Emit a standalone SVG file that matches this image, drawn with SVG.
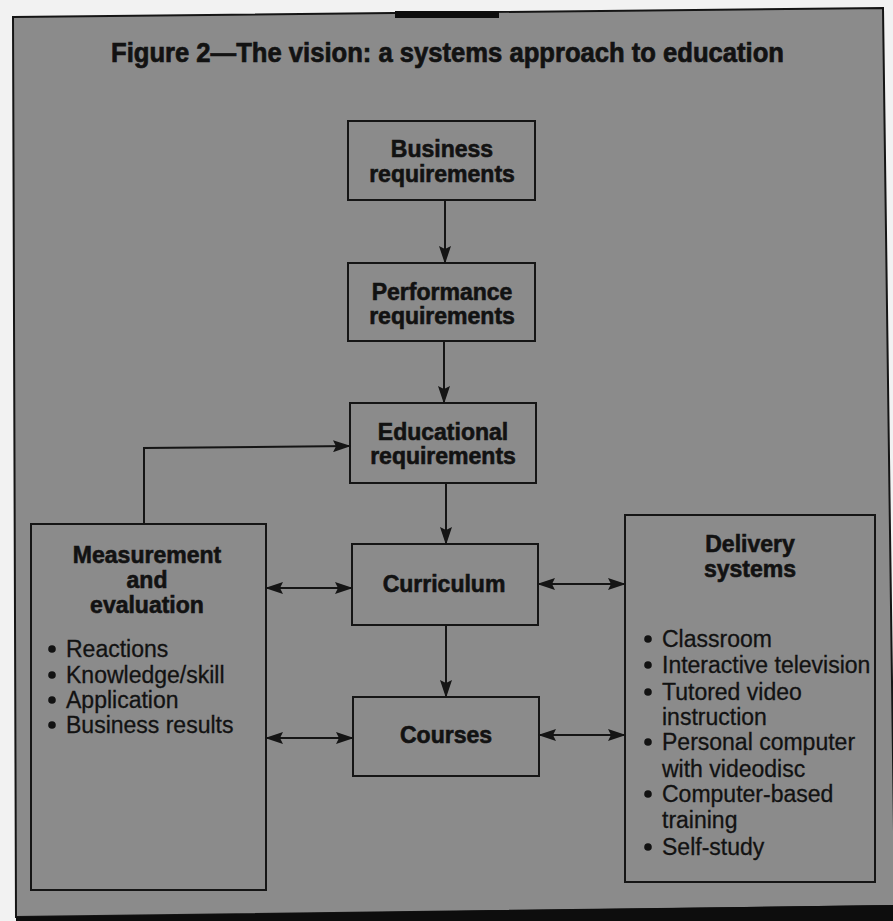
<svg xmlns="http://www.w3.org/2000/svg" width="893" height="921" viewBox="0 0 893 921">
<defs>
<style>
.box{fill:none;stroke:#151515;stroke-width:2}
.con{fill:none;stroke:#151515;stroke-width:2}
.dot{fill:#121212}
.b{font-family:"Liberation Sans",Arial,sans-serif;font-weight:bold;font-size:23px;fill:#121212;stroke:#121212;stroke-width:0.6;text-anchor:middle}
.r{font-family:"Liberation Sans",Arial,sans-serif;font-size:23px;fill:#121212;stroke:#121212;stroke-width:0.3}
.t{font-family:"Liberation Sans",Arial,sans-serif;font-weight:bold;font-size:27px;fill:#121212;stroke:#121212;stroke-width:0.7}
</style>
<marker id="ah" markerUnits="userSpaceOnUse" markerWidth="18" markerHeight="12" refX="17" refY="6" orient="auto-start-reverse">
<path d="M0,0 L18,6 L0,12 L3,6 Z" fill="#151515"/>
</marker>
</defs>
<rect x="0" y="0" width="893" height="921" fill="#f2f2f2"/>
<polygon points="13,17 883,8 895,906 16,917" fill="#8b8b8b" stroke="#151515" stroke-width="2"/>
<polygon points="16,917 895,905 895,921 16,921" fill="#0d0d0d"/>
<rect x="395" y="11" width="104" height="7" fill="#0d0d0d"/>
<text class="t" x="111" y="62" textLength="673" lengthAdjust="spacingAndGlyphs">Figure 2—The vision: a systems approach to education</text>

<g id="business">
<rect class="box" x="348" y="121" width="187" height="79"/>
<text class="b" x="442" y="157">Business</text>
<text class="b" x="442" y="182">requirements</text>
</g>
<g id="performance">
<rect class="box" x="348" y="263" width="187" height="78"/>
<text class="b" x="442" y="300">Performance</text>
<text class="b" x="442" y="324">requirements</text>
</g>
<g id="educational">
<rect class="box" x="350" y="403" width="186" height="80"/>
<text class="b" x="443" y="440">Educational</text>
<text class="b" x="443" y="464">requirements</text>
</g>
<g id="curriculum">
<rect class="box" x="352" y="544" width="186" height="81"/>
<text class="b" x="444" y="592">Curriculum</text>
</g>
<g id="courses">
<rect class="box" x="353" y="697" width="186" height="79"/>
<text class="b" x="446" y="743">Courses</text>
</g>
<g id="measurement">
<rect class="box" x="31" y="524" width="235" height="366"/>
<text class="b" x="147" y="563">Measurement</text>
<text class="b" x="147" y="588">and</text>
<text class="b" x="147" y="613">evaluation</text>
<circle class="dot" cx="52" cy="649" r="3.8"/><text class="r" x="66" y="657">Reactions</text>
<circle class="dot" cx="52" cy="675" r="3.8"/><text class="r" x="66" y="683">Knowledge/skill</text>
<circle class="dot" cx="52" cy="700" r="3.8"/><text class="r" x="66" y="708">Application</text>
<circle class="dot" cx="52" cy="725" r="3.8"/><text class="r" x="66" y="733">Business results</text>
</g>
<g id="delivery">
<rect class="box" x="625" y="515" width="250" height="367"/>
<text class="b" x="750" y="552">Delivery</text>
<text class="b" x="750" y="577">systems</text>
<circle class="dot" cx="648" cy="639" r="3.8"/><text class="r" x="662" y="647">Classroom</text>
<circle class="dot" cx="648" cy="665" r="3.8"/><text class="r" x="662" y="673">Interactive television</text>
<circle class="dot" cx="648" cy="692" r="3.8"/><text class="r" x="662" y="700">Tutored video</text>
<text class="r" x="662" y="725">instruction</text>
<circle class="dot" cx="648" cy="742" r="3.8"/><text class="r" x="662" y="750">Personal computer</text>
<text class="r" x="662" y="777">with videodisc</text>
<circle class="dot" cx="648" cy="794" r="3.8"/><text class="r" x="662" y="802">Computer-based</text>
<text class="r" x="662" y="828">training</text>
<circle class="dot" cx="648" cy="847" r="3.8"/><text class="r" x="662" y="855">Self-study</text>
</g>
<g id="connectors">
<path class="con" d="M445,200 V263" marker-end="url(#ah)"/>
<path class="con" d="M444,341 V403" marker-end="url(#ah)"/>
<path class="con" d="M446,483 V544" marker-end="url(#ah)"/>
<path class="con" d="M446,625 V697" marker-end="url(#ah)"/>
<path class="con" d="M144,524 V448 L350,446" marker-end="url(#ah)"/>
<path class="con" d="M266,588 H352" marker-start="url(#ah)" marker-end="url(#ah)"/>
<path class="con" d="M266,738 H353" marker-start="url(#ah)" marker-end="url(#ah)"/>
<path class="con" d="M538,584 H625" marker-start="url(#ah)" marker-end="url(#ah)"/>
<path class="con" d="M539,735 H625" marker-start="url(#ah)" marker-end="url(#ah)"/>
</g>
</svg>
